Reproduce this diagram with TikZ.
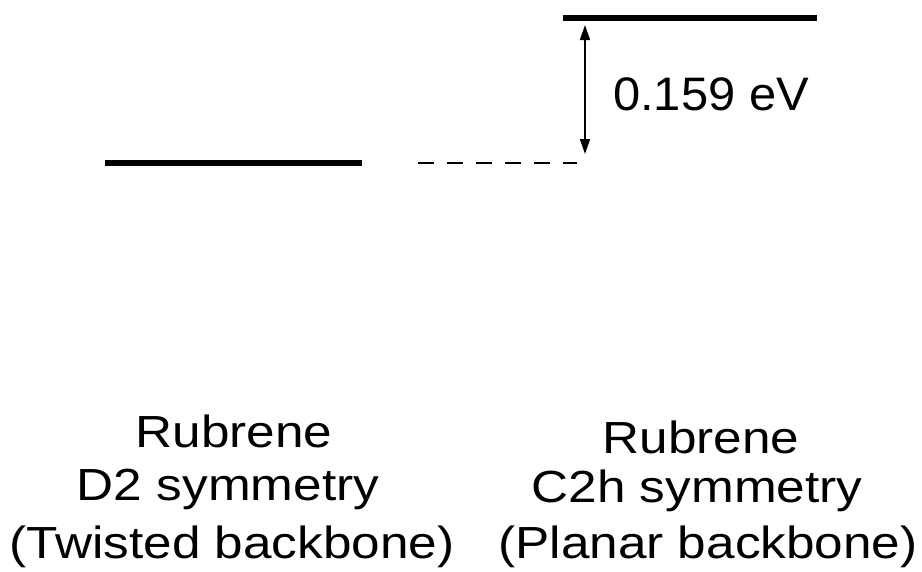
\documentclass[tikz,border=0pt]{standalone}
\usepackage{fontspec}
\setmainfont{Liberation Sans}
\usetikzlibrary{arrows.meta}
\begin{document}
\begin{tikzpicture}[x=1pt,y=-1pt,
  level/.style={line width=6pt},
  guide/.style={line width=2pt,dash pattern=on 16pt off 13pt},
  gap/.style={line width=1.6pt,{Triangle[length=15pt,width=10pt]}-{Triangle[length=15pt,width=10pt]}},
  lbl/.style={font=\fontsize{45}{54}\selectfont,inner sep=0pt,anchor=base,xscale=1.14},
  val/.style={font=\fontsize{47}{56}\selectfont,inner sep=0pt,anchor=base west,xscale=1.04}]
\useasboundingbox (0,0) rectangle (922,571);
\coordinate (L1) at (105,163);
\coordinate (L2) at (362,163);
\coordinate (D1) at (418,163);
\coordinate (D2) at (577,163);
\coordinate (T1) at (563,18);
\coordinate (T2) at (817,18);
\coordinate (A1) at (585,25);
\coordinate (A2) at (585,154);
\draw[level] (L1) -- (L2);
\draw[level] (T1) -- (T2);
\draw[guide] (D1) -- (D2);
\draw[gap] (A1) -- (A2);
\node[val] (v) at (613,110) {0.159 eV};
\node[lbl] (l1) at (234,447) {Rubrene};
\node[lbl] (l2) at (228,500) {D2 symmetry};
\node[lbl] (l3) at (232,558) {(Twisted backbone)};
\node[lbl] (r1) at (701,453) {Rubrene};
\node[lbl] (r2) at (697,502) {C2h symmetry};
\node[lbl] (r3) at (708,558) {(Planar backbone)};
\end{tikzpicture}
\end{document}
